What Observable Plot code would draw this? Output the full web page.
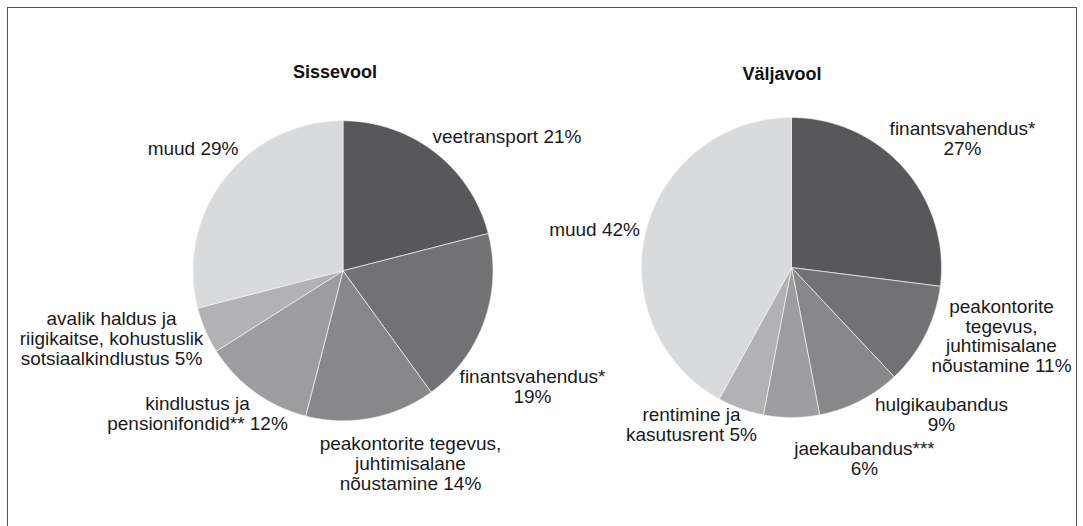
<!DOCTYPE html>
<html><head><meta charset="utf-8">
<script src="https://cdn.jsdelivr.net/npm/d3@7"></script>
<script src="https://cdn.jsdelivr.net/npm/@observablehq/plot@0.6"></script>
<style>
html,body{margin:0;padding:0;background:#fff;overflow:hidden;}
#wrap{position:relative;width:1083px;height:526px;overflow:hidden;font-family:"Liberation Sans",Arial,Helvetica,sans-serif;}
#frame{position:absolute;left:7px;top:7px;width:1070px;height:600px;border:1px solid #555;box-sizing:border-box;}
#row{position:absolute;left:0;top:0;display:flex;}
#row svg{overflow:visible;}
</style></head><body>
<div id="wrap"><div id="frame"></div><div id="row"></div></div>
<script>
// ---- data ----
const inflowTitle = "Sissevool";
const inflowCategories = ["veetransport", "finantsvahendus*", "peakontorite tegevus, juhtimisalane nõustamine", "kindlustus ja pensionifondid**", "avalik haldus ja riigikaitse, kohustuslik sotsiaalkindlustus", "muud"];
const inflowShares = [21, 19, 14, 12, 5, 29];

const outflowTitle = "Väljavool";
const outflowCategories = ["finantsvahendus*", "peakontorite tegevus, juhtimisalane nõustamine", "hulgikaubandus", "jaekaubandus***", "rentimine ja kasutusrent", "muud"];
const outflowShares = [27, 11, 9, 6, 5, 42];

// ---- styling / layout ----
const shadeRamp = ["#58585a", "#727274", "#88888a", "#9d9d9f", "#b2b2b4", "#d9dadc"];
const R = 150;
const FONT = '"Liberation Sans", Arial, Helvetica, sans-serif';

// label layout: pixel anchor within each svg, anchor type, word indices after which to break lines
const inflowLayout = {
  width: 541, cx: 342.5, cy: 270.3, title: {px: 334.5, py: 72},
  labels: [
    {px: 432, py: 136, anchor: "start", breaks: []},
    {px: 532, py: 386, anchor: "middle", breaks: [0]},
    {px: 410, py: 463, anchor: "middle", breaks: [1, 2]},
    {px: 197, py: 413, anchor: "middle", breaks: [1]},
    {px: 111, py: 338, anchor: "middle", breaks: [2, 4]},
    {px: 238, py: 148, anchor: "end", breaks: []}
  ]
};
const outflowLayout = {
  width: 542, offset: 541, cx: 791, cy: 267, title: {px: 781.5, py: 74},
  labels: [
    {px: 962, py: 138, anchor: "middle", breaks: [0]},
    {px: 1001, py: 335.6, anchor: "middle", breaks: [0, 1, 2]},
    {px: 941, py: 414.5, anchor: "middle", breaks: [0]},
    {px: 864, py: 458.4, anchor: "middle", breaks: [0]},
    {px: 691, py: 424.5, anchor: "middle", breaks: [1]},
    {px: 639.5, py: 229, anchor: "end", breaks: []}
  ]
};

function wrapLabel(cat, share, breaks) {
  const words = (cat + " " + share + "%").split(" ");
  let out = "";
  words.forEach((w, i) => {
    out += w;
    if (i < words.length - 1) out += breaks.includes(i) ? "\n" : " ";
  });
  return out;
}

function slicePoints(cats, vals) {
  const arcs = d3.pie().sort(null).value(d => d)(vals);
  const pts = [];
  arcs.forEach((a, i) => {
    const n = Math.max(2, Math.ceil((a.endAngle - a.startAngle) / 0.005));
    pts.push({k: cats[i], x: 0, y: 0});
    for (let j = 0; j <= n; j++) {
      const t = a.startAngle + (a.endAngle - a.startAngle) * j / n;
      pts.push({k: cats[i], x: Math.sin(t), y: Math.cos(t)});
    }
    pts.push({k: cats[i], x: 0, y: 0});
  });
  return pts;
}

function pieChart(title, cats, vals, L) {
  const off = L.offset || 0;
  const cx = L.cx - off, cy = L.cy;
  const toX = px => (px - off - cx) / R;
  const toY = py => (cy - py) / R;
  const labels = cats.map((c, i) => ({
    text: wrapLabel(c, vals[i], L.labels[i].breaks),
    x: toX(L.labels[i].px), y: toY(L.labels[i].py), anchor: L.labels[i].anchor
  }));
  const textOpts = {x: "x", y: "y", text: "text", lineAnchor: "middle", fontSize: 19, lineHeight: 1.04, fill: "#1a1a1a"};
  return Plot.plot({
    width: L.width, height: 526,
    margin: 0,
    x: {domain: [-1, 1], range: [cx - R, cx + R], axis: null},
    y: {domain: [-1, 1], range: [cy + R, cy - R], axis: null},
    color: {type: "ordinal", domain: cats, range: shadeRamp},
    style: {fontFamily: FONT, background: "transparent", overflow: "visible"},
    marks: [
      Plot.line(slicePoints(cats, vals), {x: "x", y: "y", z: "k", fill: "k", stroke: "#f2f2f2", strokeWidth: 0.7, strokeLinejoin: "round", curve: "linear"}),
      ...["start", "middle", "end"].map(a =>
        Plot.text(labels.filter(d => d.anchor === a), {...textOpts, textAnchor: a})),
      Plot.text([title], {x: () => toX(L.title.px), y: () => toY(L.title.py), text: d => d, fontSize: 18, fontWeight: "bold", fill: "#111"})
    ]
  });
}

const row = document.getElementById("row");
row.appendChild(pieChart(inflowTitle, inflowCategories, inflowShares, inflowLayout));
row.appendChild(pieChart(outflowTitle, outflowCategories, outflowShares, outflowLayout));
</script>
</body></html>
